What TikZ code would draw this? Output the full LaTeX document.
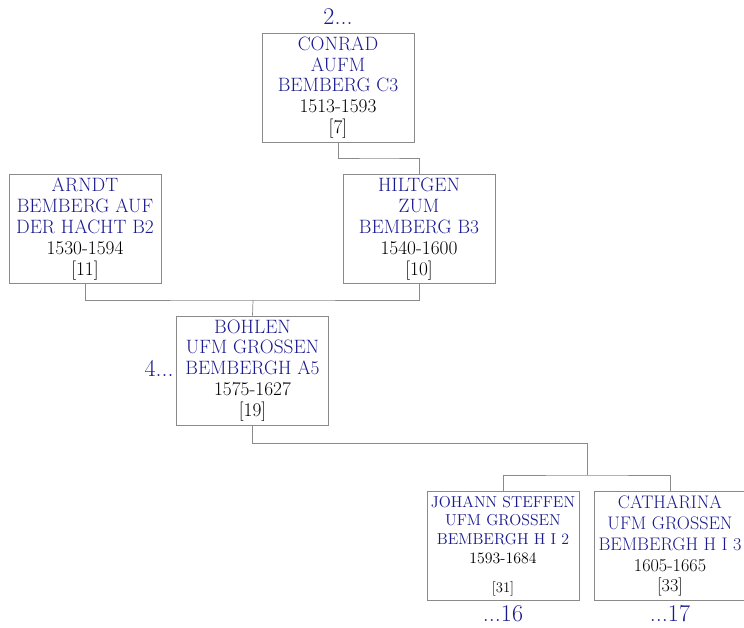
\documentclass[tikz,border=0pt]{standalone}
\usepackage{tikz}
\usepackage{xcolor}
\definecolor{namecol}{HTML}{1A1A90}
\definecolor{boxgray}{HTML}{8A8A8A}
\newcommand{\nm}[1]{\textcolor{namecol}{#1}}

\begin{document}
\begin{tikzpicture}[x=0.03cm,y=-0.03cm,
  person/.style={draw=boxgray,line width=0.6pt,fill=white,minimum width=4.56cm,minimum height=3.27cm,inner sep=1pt,align=center,font=\fontsize{16.5}{17.8}\selectfont},
  link/.style={draw=boxgray,line width=0.6pt},
  more/.style={text=namecol,font=\fontsize{20.5}{20.5}\selectfont}]
\useasboundingbox (0,0) rectangle (744,628);
  % persons
  \node [person] (conrad) at (338,87.5) {\nm{CONRAD}\\\nm{AUFM}\\\nm{BEMBERG C3}\\1513-1593\\{[7]}};
  \node [person] (arndt) at (85,229) {\nm{ARNDT}\\\nm{BEMBERG AUF}\\\nm{DER HACHT B2}\\1530-1594\\{[11]}};
  \node [person] (hiltgen) at (419,229) {\nm{HILTGEN}\\\nm{ZUM}\\\nm{BEMBERG B3}\\1540-1600\\{[10]}};
  \node [person] (bohlen) at (252.5,370.5) {\nm{BOHLEN}\\\nm{UFM GROSSEN}\\\nm{BEMBERGH A5}\\1575-1627\\{[19]}};
  \node [person,font=\fontsize{13.5}{16}\selectfont] (johann) at (503,546) {\nm{JOHANN STEFFEN}\\\nm{UFM GROSSEN}\\\nm{BEMBERGH H I 2}\\1593-1684\\[9pt]{\fontsize{12.5}{15}\selectfont[31]}};
  \node [person,font=\fontsize{15.5}{17.8}\selectfont] (catharina) at (670,546) {\nm{CATHARINA}\\\nm{UFM GROSSEN}\\\nm{BEMBERGH H I 3}\\1605-1665\\{[33]}};
  % continuation marks
  \node [more] (up2) at (338,17) {2...};
  \node [more,anchor=east,inner sep=2pt] (left4) at ([yshift=2pt]bohlen.west) {4...};
  \node [more] (down16) at (503,614) {...16};
  \node [more] (down17) at (670,614) {...17};
  % links
  \draw [link] (conrad.south) |- (380,158) -| (hiltgen.north);
  \coordinate (j1) at (253,300);
  \draw [link] (arndt.south) |- (j1) -| (hiltgen.south);
  \draw [link] (j1) -- (bohlen.north);
  \coordinate (j2a) at (587,443);
  \coordinate (j2b) at (587,475);
  \draw [link] (bohlen.south) |- (j2a) -- (j2b);
  \draw [link] (johann.north) |- (j2b) -| (catharina.north);
\end{tikzpicture}
\end{document}
